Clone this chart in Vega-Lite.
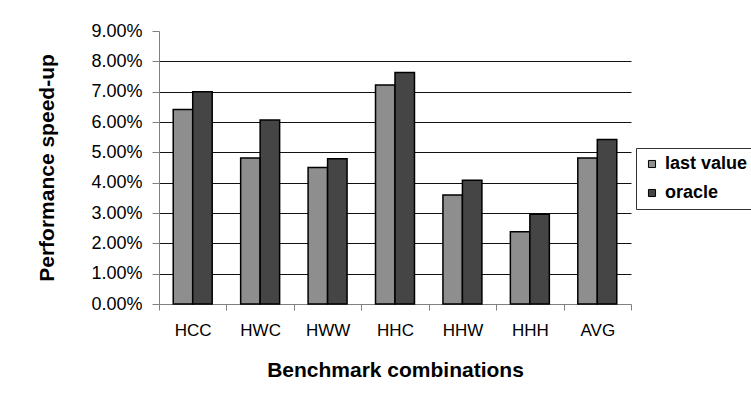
{
  "$schema": "https://vega.github.io/schema/vega-lite/v6.json",
  "width": 472,
  "height": 273,
  "autosize": {"type": "none"},
  "padding": {"left": 159, "top": 31, "right": 120, "bottom": 99},
  "background": "white",
  "config": {"font": "Liberation Sans", "view": {"stroke": null}},
  "data": {
    "values": [
      {"combo": "HCC", "series": "last value", "value": 0.0641},
      {"combo": "HCC", "series": "oracle", "value": 0.0700},
      {"combo": "HWC", "series": "last value", "value": 0.0481},
      {"combo": "HWC", "series": "oracle", "value": 0.0607},
      {"combo": "HWW", "series": "last value", "value": 0.0450},
      {"combo": "HWW", "series": "oracle", "value": 0.0479},
      {"combo": "HHC", "series": "last value", "value": 0.0722},
      {"combo": "HHC", "series": "oracle", "value": 0.0763},
      {"combo": "HHW", "series": "last value", "value": 0.0359},
      {"combo": "HHW", "series": "oracle", "value": 0.0408},
      {"combo": "HHH", "series": "last value", "value": 0.0238},
      {"combo": "HHH", "series": "oracle", "value": 0.0296},
      {"combo": "AVG", "series": "last value", "value": 0.0481},
      {"combo": "AVG", "series": "oracle", "value": 0.0542}
    ]
  },
  "mark": {"type": "bar", "stroke": "#000000", "strokeWidth": 1.5},
  "encoding": {
    "x": {
      "field": "combo",
      "type": "nominal",
      "sort": null,
      "scale": {"paddingInner": 0, "paddingOuter": 0},
      "axis": {
        "title": "Benchmark combinations",
        "titleFontSize": 21,
        "titleFontWeight": "bold",
        "titleColor": "#000000",
        "titlePadding": 21,
        "labelAngle": 0,
        "labelFontSize": 17,
        "labelFontWeight": "normal",
        "labelColor": "#000000",
        "labelPadding": 12,
        "tickBand": "extent",
        "tickSize": 6,
        "tickColor": "#808080",
        "domainColor": "#808080",
        "grid": false
      }
    },
    "xOffset": {
      "field": "series",
      "type": "nominal",
      "sort": ["last value", "oracle"],
      "scale": {"paddingInner": 0, "paddingOuter": 0.73}
    },
    "y": {
      "field": "value",
      "type": "quantitative",
      "scale": {"domain": [0, 0.09], "nice": false},
      "axis": {
        "values": [0, 0.01, 0.02, 0.03, 0.04, 0.05, 0.06, 0.07, 0.08, 0.09],
        "format": ".2%",
        "title": "Performance speed-up",
        "titleFontSize": 21,
        "titleFontWeight": "bold",
        "titleColor": "#000000",
        "titlePadding": 33,
        "labelFontSize": 18,
        "labelColor": "#000000",
        "labelPadding": 10,
        "tickSize": 7,
        "tickColor": "#808080",
        "domainColor": "#808080",
        "grid": true,
        "gridColor": "#111111",
        "gridOpacity": {"condition": {"test": "datum.value >= 0.085 || datum.value <= 0.001", "value": 0}, "value": 1}
      }
    },
    "color": {
      "field": "series",
      "type": "nominal",
      "scale": {"domain": ["last value", "oracle"], "range": ["#8e8e8e", "#454545"]},
      "legend": {
        "title": null,
        "orient": "none",
        "legendX": 477,
        "legendY": 117,
        "direction": "vertical",
        "symbolType": "square",
        "symbolSize": 50,
        "symbolStrokeColor": "#000000",
        "symbolStrokeWidth": 1,
        "labelFontSize": 18,
        "labelFontWeight": "bold",
        "labelColor": "#000000",
        "labelOffset": 4,
        "rowPadding": 11,
        "padding": 7,
        "strokeColor": "#333333",
        "fillColor": "#ffffff"
      }
    }
  }
}
